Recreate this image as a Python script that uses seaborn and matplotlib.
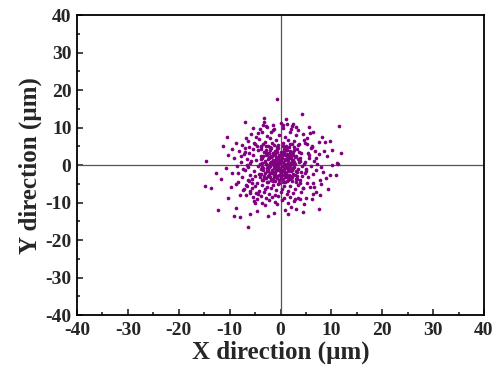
import numpy as np
import pandas as pd
import seaborn as sns
import matplotlib
matplotlib.use("Agg")
import matplotlib.pyplot as plt

# outer / sparse points (um)
outer_x = [-0.7, 4.2, 11.5, 11.9, -7.0, -10.5, -14.6, -8.7, -10.3, -6.8,
           -3.2, -2.8, -4.4, -14.8, -13.7, -12.3, -6.4, -8.7, -9.1, -8.0,
           -4.6, -2.5, -1.3, -5.0, -10.3, -12.7, -11.7, 7.6, 0.9, 1.5,
           -0.7, 2.8, 6.2, 7.8, 7.0, 11.3, 10.1, 11.0, 9.7, 8.9,
           8.4, 6.4, 6.6, 0.0, 1.2, 2.2, 3.0, 5.8, 6.4, 8.1,
           9.7, 8.7, 7.6, 10.1, 8.5, 9.1, 11.1, -1.5, -1.9, -3.4,
           0.5, 2.5, -9.5, -10.8, -9.8, 9.3, 4.5, -5.9, 8.0, -11.4]
outer_y = [17.6, 13.6, 10.4, 3.2, 11.5, 7.5, 1.1, 5.9, 2.7, 7.2,
           11.5, 10.4, 8.5, -5.6, -6.2, -12.0, -16.5, -11.5, -13.6, -13.8,
           -12.3, -13.6, -12.8, -10.1, -8.8, -2.2, -3.7, -11.7, -12.0, -13.0,
           -10.4, -9.0, -9.0, -8.0, -7.2, 0.3, 0.0, -2.7, -2.7, -3.5,
           -1.9, -4.8, -5.9, 11.2, 10.9, 10.4, 10.1, 8.5, 8.8, 7.5,
           6.4, 6.1, 6.1, 4.0, 3.7, 2.4, 0.5, 10.7, 8.8, 10.7,
           10.7, 10.9, 4.4, -0.9, -5.8, -6.4, -12.6, -13.0, -5.0, 5.1]

# main body of the cloud
body_x = [-5.8, -4.9, -3.7, -2.6, -1.4, -0.3, 0.8, 1.9, 3.1, 4.4,
          -6.3, -5.1, -4.2, -3.0, -2.1, -0.9, 0.4, 1.5, 2.7, 5.3,
          -7.5, -4.6, -3.5, -2.4, -1.6, -0.5, 1.1, 2.2, 3.6, 4.9,
          -6.9, -5.5, -3.9, -2.8, -1.8, -0.7, 0.6, 1.7, 3.3, 6.1,
          -8.1, -6.2, -4.4, -3.3, -2.2, -1.1, 0.1, 1.3, 2.5, 4.1,
          -7.2, -5.4, -3.8, -2.9, -1.9, -0.8, 0.3, 1.6, 2.9, 5.6,
          -9.1, -6.6, -4.8, -3.6, -2.5, -1.3, -0.2, 0.9, 2.1, 3.8,
          -7.8, -5.9, -4.1, -3.1, -2.0, -0.9, 0.2, 1.4, 2.6, 4.6,
          -8.6, -6.4, -4.5, -3.4, -2.3, -1.2, -0.1, 1.0, 2.4, 4.3,
          -7.0, -5.2, -3.9, -2.7, -1.7, -0.6, 0.5, 1.8, 3.2, 5.0,
          -9.5, -6.0, -4.3, -3.2, -2.1, -1.0, 0.0, 1.2, 2.8, 4.8,
          -7.6, -5.6, -4.0, -2.9, -1.8, -0.8, 0.4, 1.6, 3.0, 5.4,
          -8.3, -6.1, -4.7, -3.5, -2.4, -1.4, -0.3, 0.8, 2.2, 3.9,
          -6.8, -5.0, -3.7, -2.6, -1.5, -0.4, 0.7, 1.9, 3.4, 5.8,
          -7.3, -5.7, -4.2, -3.0, -1.9, -0.9, 0.3, 1.5, 2.9, 4.5,
          -6.0, -4.4, -3.3, -2.2, -1.1, 0.0, 1.2, 2.5, 4.0, 6.3,
          -5.4, -3.9, -2.8, -1.6, -0.5, 0.6, 1.9, 3.5, -7.9, 5.1]
body_y = [8.2, 7.4, 8.9, 7.8, 9.3, 8.1, 7.6, 8.7, 7.9, 8.3,
          6.4, 5.7, 6.9, 6.1, 7.2, 6.6, 5.9, 6.8, 6.3, 7.1,
          5.3, 5.1, 5.6, 5.0, 5.8, 5.4, 5.2, 5.7, 5.5, 5.9,
          4.6, 4.2, 4.8, 4.1, 4.5, 4.9, 4.3, 4.7, 4.4, 4.8,
          3.8, 3.3, 3.9, 3.5, 3.2, 3.7, 3.4, 3.9, 3.6, 3.1,
          2.9, 2.6, 2.3, 2.8, 2.5, 2.1, 2.7, 2.4, 2.2, 2.8,
          1.9, 1.6, 1.3, 1.8, 1.5, 1.1, 1.7, 1.4, 1.9, 1.2,
          0.9, 0.6, 0.3, 0.8, 0.5, 0.1, 0.7, 0.4, 0.9, 0.2,
          -0.2, -0.6, -0.3, -0.8, -0.4, -0.1, -0.7, -0.5, -0.9, -0.3,
          -1.3, -1.7, -1.1, -1.5, -1.8, -1.2, -1.6, -1.4, -1.9, -1.1,
          -2.2, -2.6, -2.4, -2.8, -2.1, -2.5, -2.3, -2.9, -2.6, -2.2,
          -3.3, -3.7, -3.1, -3.5, -3.9, -3.2, -3.6, -3.4, -3.8, -3.1,
          -4.4, -4.2, -4.8, -4.1, -4.6, -4.3, -4.9, -4.5, -4.2, -4.7,
          -5.3, -5.6, -5.2, -5.8, -5.4, -5.1, -5.7, -5.5, -5.3, -5.9,
          -6.6, -6.2, -6.8, -6.4, -6.1, -6.7, -6.3, -6.9, -6.5, -6.2,
          -7.4, -7.8, -7.2, -7.6, -7.9, -7.3, -7.7, -7.5, -7.1, -7.6,
          -8.5, -8.2, -8.9, -8.6, -8.3, -8.8, -8.4, -8.7, -8.1, -8.9]

# dense centre
core_x = [-3.8, -2.9, -2.1, -1.4, -0.6, 0.2, 1.0, 1.8, 2.7, 3.6,
          -3.5, -2.7, -1.8, -1.0, -0.2, 0.5, 1.3, 2.1, 3.0, 3.9,
          -3.9, -3.1, -2.2, -1.5, -0.7, 0.1, 0.9, 1.7, 2.5, 3.4,
          -3.6, -2.8, -1.9, -1.2, -0.4, 0.4, 1.1, 2.0, 2.8, 3.7,
          -3.7, -2.6, -2.0, -1.3, -0.5, 0.3, 1.2, 1.9, 2.7, 3.5,
          -3.4, -2.5, -1.7, -0.9, -0.1, 0.6, 1.4, 2.2, 3.1, 4.0,
          -3.9, -3.0, -2.3, -1.6, -0.8, 0.0, 0.8, 1.7, 2.4, 3.3,
          -3.3, -2.4, -1.5, -0.7, 0.1, 0.9, 1.5, 2.3, 3.2, 4.2,
          -3.6, -2.7, -1.8, -1.1, -0.3, 0.5, 1.3, 2.1, 3.0, 3.8,
          -2.9, -2.0, -1.2, -0.4, 0.4, 1.1, 1.9, 2.6, -3.9, 3.5,
          -2.3, -1.6, -0.9, -0.3, 0.3, 0.9, 1.5, 2.2, -1.9, 0.6,
          -2.1, -1.4, -0.8, -0.1, 0.5, 1.1, 1.7, 2.4, -0.5, 1.4,
          -2.4, -1.7, -1.0, -0.4, 0.2, 0.8, 1.4, 2.0, -1.2, 0.0,
          -2.2, -1.5, -0.6, 0.1, 0.7, 1.3, 1.9, 2.5, -0.2, 1.0,
          -2.0, -1.3, -0.7, 0.0, 0.6, 1.2, 1.8, -2.6, 2.3, -0.9]
core_y = [4.4, 3.6, 4.0, 3.3, 4.2, 3.5, 3.9, 3.2, 4.1, 3.4,
          2.4, 3.0, 2.2, 2.9, 2.6, 3.1, 2.3, 2.8, 2.5, 2.0,
          1.6, 1.2, 1.9, 1.4, 1.8, 1.0, 1.5, 1.9, 1.3, 1.7,
          0.6, 0.2, 0.9, 0.5, 0.3, 0.8, 0.1, 0.6, 0.4, 0.7,
          -0.4, -0.9, -0.2, -0.7, -0.5, -0.3, -0.8, -0.1, -0.6, -1.0,
          -1.4, -1.1, -1.8, -1.3, -1.6, -1.0, -1.5, -1.2, -1.7, -1.9,
          -2.5, -2.0, -2.7, -2.2, -2.9, -2.4, -2.1, -2.6, -2.3, -2.8,
          -3.4, -3.0, -3.7, -3.2, -3.5, -3.1, -3.9, -3.3, -3.6, -3.0,
          -4.1, -4.5, -3.9, -4.3, -4.0, -4.6, -4.2, -3.8, -4.4, -4.1,
          5.1, 4.8, 5.4, 4.6, 5.2, 4.9, 5.5, 4.7, 5.0, 5.3,
          2.1, 2.5, 1.7, 2.3, 1.9, 2.6, 1.6, 1.1, 0.7, 0.4,
          -0.3, 0.3, -0.6, 0.5, -0.2, 0.4, -0.4, 0.2, 1.2, 1.0,
          -1.5, -1.2, -1.9, -1.0, -1.3, -1.8, -1.1, -1.6, -2.3, -2.0,
          3.3, 2.8, 3.6, 3.0, 3.4, 2.9, 3.7, 2.7, -2.6, -2.5,
          -3.1, -2.8, -3.4, -3.0, -2.7, -3.3, -2.9, 0.1, -0.7, 0.9]

# ring between body and outliers
ring_x = [5.2, 6.0, 6.8, 7.5, 5.7, 6.5, 7.2, 8.0, 5.0, 6.3,
          4.7, 5.5, 6.2, 7.0, 4.9, 5.9, 6.9, 7.7, 5.3, 4.4,
          -5.3, -6.1, -6.9, -7.7, -5.8, -6.6, -7.4, -8.4, -5.1, -6.4,
          -5.6, -6.5, -7.1, -8.8, -5.9, -6.7, -4.6, -5.2, -3.7, -4.9,
          -2.2, -1.0, 0.2, 1.4, 2.6, 3.8, -3.1, 2.0, 4.7, 3.1,
          -4.1, -2.7, -1.2, 0.5, 2.0, 3.4, -5.4, 1.0, 5.6, -3.3]
ring_y = [5.5, 4.6, 3.8, 2.9, 2.0, 1.2, 0.4, -0.6, -1.6, -2.5,
          6.8, 3.1, 5.2, 1.8, 0.9, -0.3, -1.3, -4.1, -4.9, -6.0,
          5.9, 4.9, 3.6, 2.5, 1.0, -0.1, -1.1, -2.0, -3.0, -4.0,
          -4.8, -5.6, -6.4, -5.0, -7.0, -8.1, -9.1, -9.6, -10.0, -7.4,
          -9.4, -9.8, -9.2, -10.1, -9.6, -9.1, -10.7, -11.1, -10.4, -11.8,
          9.6, 10.1, 9.5, 10.0, 9.7, 9.3, 9.9, 12.3, 10.2, 12.6]

df = pd.DataFrame({
    "x": outer_x + body_x + core_x + ring_x,
    "y": outer_y + body_y + core_y + ring_y,
})

sns.set_style("ticks")
plt.rcParams['font.family'] = ['Liberation Serif', 'DejaVu Serif']
plt.rcParams['font.weight'] = 'bold'
plt.rcParams['axes.unicode_minus'] = False

fig = plt.figure(figsize=(5.0, 3.76), dpi=100)
ax = fig.add_axes([0.154, 0.162, 0.814, 0.798])

ax.axhline(0, color="#555555", lw=0.9, zorder=1)
ax.axvline(0, color="#555555", lw=0.9, zorder=1)
sns.scatterplot(data=df, x="x", y="y", ax=ax, color="#800080", marker="o",
                s=7, linewidth=0, zorder=3)

ax.set_xlim(-40, 40)
ax.set_ylim(-40, 40)
ax.set_xticks(np.arange(-40, 41, 10))
ax.set_yticks(np.arange(-40, 41, 10))
ax.set_xticks(np.arange(-35, 40, 10), minor=True)
ax.set_yticks(np.arange(-35, 40, 10), minor=True)
ax.tick_params(which="major", direction="in", length=4, width=1.2, labelsize=14)
ax.tick_params(axis="x", which="major", pad=5)
ax.tick_params(axis="y", which="major", pad=4)
ax.tick_params(which="minor", direction="in", length=2.5, width=1.2)
for lbl in ax.get_xticklabels() + ax.get_yticklabels():
    lbl.set_fontweight("bold")
for sp in ax.spines.values():
    sp.set_linewidth(1.3)
    sp.set_color("black")

ax.set_xlabel("X direction (\u00b5m)", fontsize=18, fontweight="bold", labelpad=1)
ax.set_ylabel("Y direction (\u00b5m)", fontsize=18, fontweight="bold", labelpad=2)

fig.savefig("out.png", dpi=100)
